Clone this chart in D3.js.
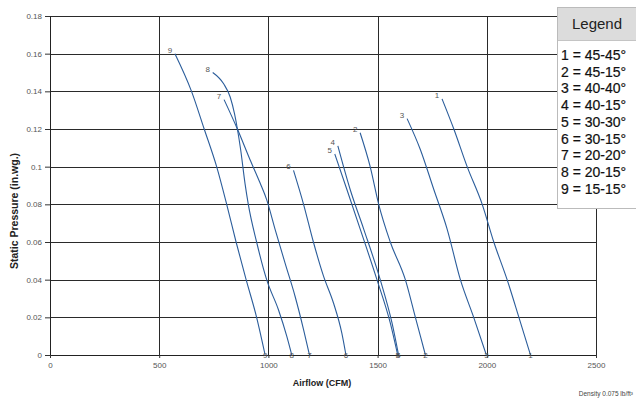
<!DOCTYPE html>
<html><head><meta charset="utf-8">
<script src="https://cdn.jsdelivr.net/npm/d3@7"></script>
<style>
html,body{margin:0;padding:0;background:#fff;}
svg{display:block;}
</style></head>
<body>
<svg id="chart" width="636" height="398"></svg>
<script>
// ---- data ----
const seriesIds = ["1","2","3","4","5","6","7","8","9"];
const legendLabels = ["1 = 45-45°","2 = 45-15°","3 = 40-40°","4 = 40-15°","5 = 30-30°","6 = 30-15°","7 = 20-20°","8 = 20-15°","9 = 15-15°"];
const airflow1 = [1795,1849,1910,1979,2032,2093,2147,2200];
const pressure1 = [0.136,0.120,0.100,0.080,0.060,0.040,0.020,0];
const airflow2 = [1420,1466,1505,1558,1627,1673,1719];
const pressure2 = [0.118,0.100,0.080,0.060,0.040,0.020,0];
const airflow3 = [1635,1696,1757,1818,1879,1940,1998];
const pressure3 = [0.1255,0.109,0.088,0.067,0.040,0.020,0];
const airflow4 = [1318,1374,1436,1512,1566,1596];
const pressure4 = [0.111,0.088,0.067,0.040,0.017,0];
const airflow5 = [1304,1359,1420,1497,1558,1592];
const pressure5 = [0.1067,0.088,0.067,0.040,0.017,0];
const airflow6 = [1115,1161,1206,1252,1298,1336,1355];
const pressure6 = [0.098,0.080,0.060,0.042,0.0276,0.0117,0];
const airflow7 = [797,858,916,962,992,1031,1076,1122,1161,1188];
const pressure7 = [0.1356,0.120,0.1037,0.0913,0.0825,0.0666,0.0489,0.0312,0.0135,0];
const airflow8 = [745,795,825,845,858,873,893,908,946,992,1046,1084,1107];
const pressure8 = [0.150,0.144,0.137,0.128,0.120,0.109,0.091,0.080,0.060,0.040,0.024,0.010,0];
const airflow9 = [572,648,706,763,809,852,898,946,985];
const pressure9 = [0.160,0.140,0.120,0.100,0.080,0.060,0.040,0.020,0];
const xTicks = [0,500,1000,1500,2000,2500];
const yTicks = [0,0.02,0.04,0.06,0.08,0.10,0.12,0.14,0.16,0.18];
const yTickLabels = ["0","0.02","0.04","0.06","0.08","0.1","0.12","0.14","0.16","0.18"];

const airflows = [airflow1,airflow2,airflow3,airflow4,airflow5,airflow6,airflow7,airflow8,airflow9];
const pressures = [pressure1,pressure2,pressure3,pressure4,pressure5,pressure6,pressure7,pressure8,pressure9];
const series = seriesIds.map((id,i)=>({id, pts: airflows[i].map((a,j)=>({x:a,y:pressures[i][j]}))}));

// ---- layout ----
const svg = d3.select("#chart");
const L=50, R=596, T=16, B=355;
const x = d3.scaleLinear().domain([0,2500]).range([L,R]);
const y = d3.scaleLinear().domain([0,0.18]).range([B,T]);
const font = "'Liberation Sans', Arial, sans-serif";
const gridColor = "#2a2a2a";
const snap = v => Math.round(v) + 0.5;

// gridlines
svg.append("g").selectAll("line.h").data(yTicks).join("line")
  .attr("x1",L).attr("x2",R).attr("y1",d=>snap(y(d))).attr("y2",d=>snap(y(d)))
  .attr("stroke",gridColor).attr("stroke-width",1);
svg.append("g").selectAll("line.v").data(xTicks).join("line")
  .attr("y1",T).attr("y2",B).attr("x1",d=>snap(x(d))).attr("x2",d=>snap(x(d)))
  .attr("stroke",gridColor).attr("stroke-width",1);

// axes
const yAxis = d3.axisLeft(y).tickValues(yTicks).tickSize(5).tickPadding(3)
  .tickFormat((d,i)=>yTickLabels[i]);
const gy = svg.append("g").attr("transform",`translate(${L},0)`).call(yAxis);
const xAxis = d3.axisBottom(x).tickValues(xTicks).tickSize(3).tickPadding(4).tickFormat(d3.format("d"));
const gx = svg.append("g").attr("transform",`translate(0,${B})`).call(xAxis);
[gx,gy].forEach(g=>{
  g.select(".domain").attr("stroke","#222");
  g.selectAll(".tick line").attr("stroke","#333");
  g.selectAll("text").attr("font-family",font).attr("font-size",8).attr("fill","#555");
});

// curves
const line = d3.line().x(d=>x(d.x)).y(d=>y(d.y)).curve(d3.curveMonotoneX);
svg.append("g").selectAll("path").data(series).join("path")
  .attr("d",d=>line(d.pts)).attr("fill","none")
  .attr("stroke","#2b5d9b").attr("stroke-width",1.1);

// curve labels
const lbl = svg.append("g").attr("font-family",font).attr("font-size",8).attr("fill","#555").attr("text-anchor","middle");
series.forEach(s=>{
  const p0 = s.pts[0], pe = s.pts[s.pts.length-1];
  lbl.append("text").attr("x",x(p0.x)-5).attr("y",y(p0.y)-1).text(s.id);
  lbl.append("text").attr("x",x(pe.x)).attr("y",y(pe.y)+3).text(s.id);
});

// axis titles
svg.append("text").attr("x",322).attr("y",386).attr("text-anchor","middle")
  .attr("font-family",font).attr("font-size",9).attr("font-weight","bold").attr("fill","#222")
  .text("Airflow (CFM)");
svg.append("text").attr("transform","translate(18,211) rotate(-90)").attr("text-anchor","middle")
  .attr("font-family",font).attr("font-size",10.5).attr("font-weight","bold").attr("fill","#222")
  .text("Static Pressure (in.wg.)");
svg.append("text").attr("x",633).attr("y",396).attr("text-anchor","end")
  .attr("font-family",font).attr("font-size",6.5).attr("fill","#444")
  .text("Density 0.075 lb/ft³");

// legend
const lg = svg.append("g");
lg.append("rect").attr("x",557.5).attr("y",7.5).attr("width",90).attr("height",201)
  .attr("fill","#fff").attr("stroke","#bbb");
lg.append("rect").attr("x",558).attr("y",8).attr("width",89).attr("height",32).attr("fill","#dcdcdc");
lg.append("line").attr("x1",558).attr("x2",640).attr("y1",40.5).attr("y2",40.5).attr("stroke","#c4c4c4");
lg.append("text").attr("x",597).attr("y",29).attr("text-anchor","middle")
  .attr("font-family",font).attr("font-size",15).attr("fill","#222").text("Legend");
lg.selectAll("text.item").data(legendLabels).join("text").attr("class","item")
  .attr("x",561).attr("y",(d,i)=>60+i*16.7)
  .attr("font-family",font).attr("font-size",14).attr("fill","#111")
  .attr("stroke","#111").attr("stroke-width",0.2).text(d=>d);
</script>
</body></html>
